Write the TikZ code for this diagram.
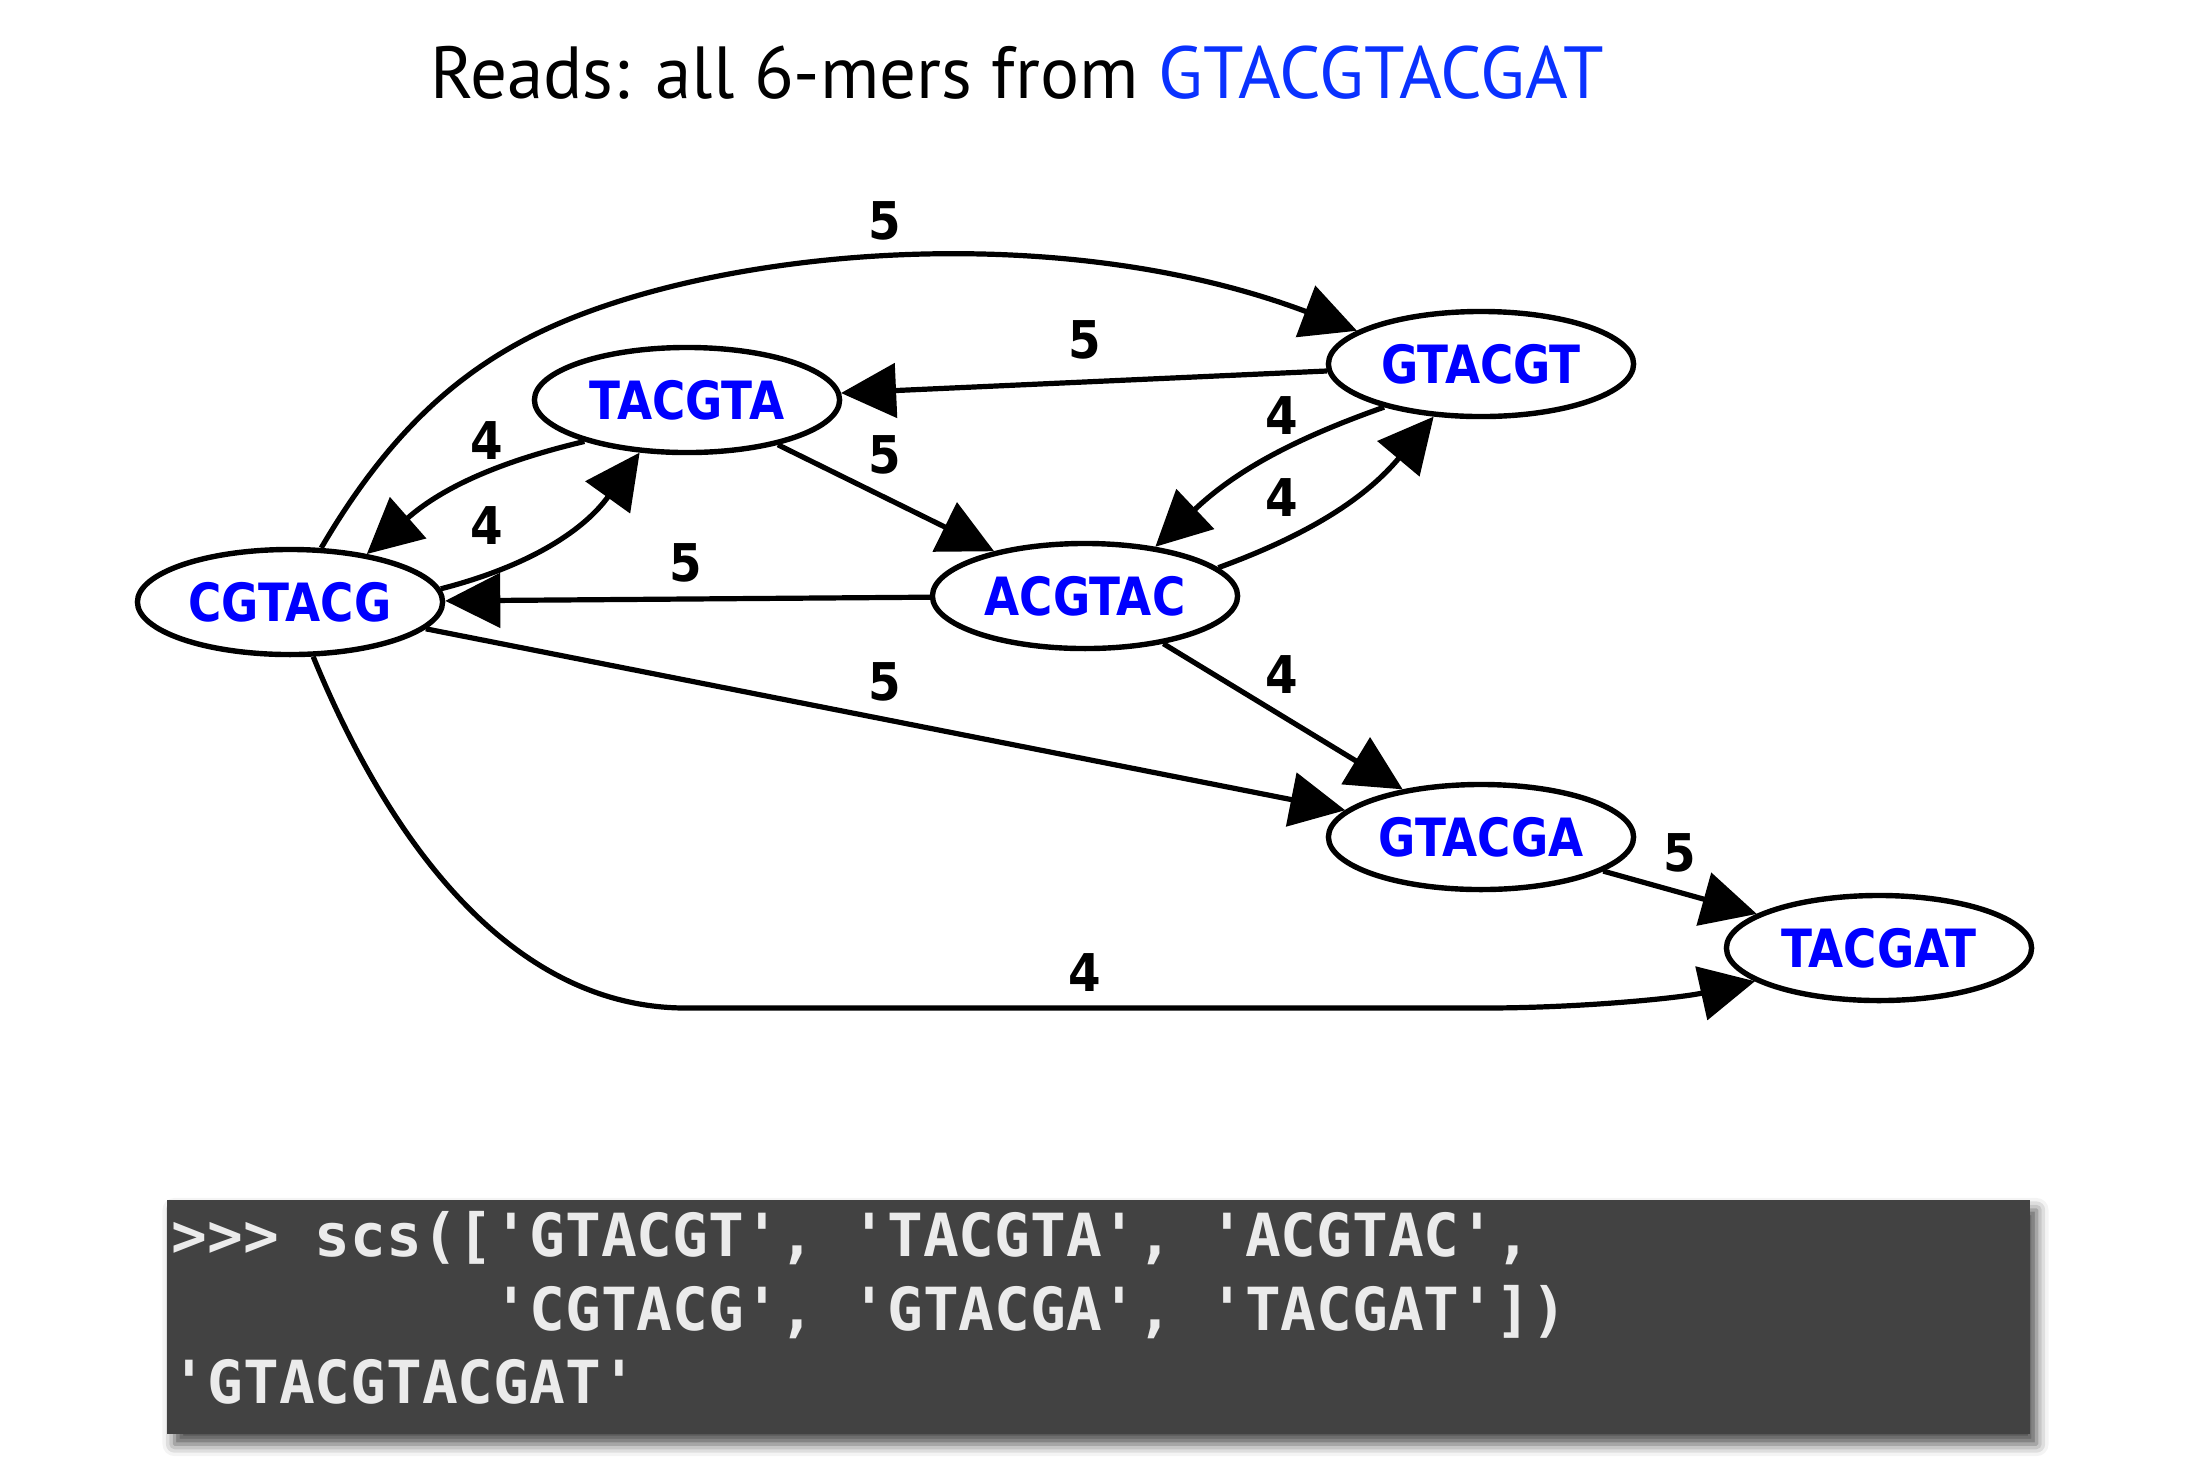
\documentclass[tikz,border=0pt]{standalone}
\usepackage{fontspec}
\setmonofont{DejaVu Sans Mono}
\newfontfamily\titlefont[FakeStretch=0.99]{PT Sans}
\newfontfamily\nodefont[FakeStretch=0.86]{DejaVu Sans Bold}
\newfontfamily\numfont[FakeStretch=0.9]{DejaVu Sans Bold}
\usetikzlibrary{arrows.meta,shapes.geometric,shadows.blur}
\definecolor{nodeblue}{RGB}{0,0,255}
\definecolor{titleblue}{RGB}{10,50,255}
\definecolor{codebg}{RGB}{66,66,66}
\definecolor{codefg}{RGB}{235,235,235}
\begin{document}
\begin{tikzpicture}[x=0.01cm,y=0.01cm,
  kmer/.style={draw=black, line width=0.054cm, ellipse, minimum width=3.05cm,
    minimum height=1.05cm, inner sep=0pt, text=nodeblue,
    font=\nodefont\fontsize{15pt}{16pt}\selectfont},
  edge/.style={line width=0.052cm, -{Triangle[length=0.55cm,width=0.54cm]}},
  wlabel/.style={font=\numfont\fontsize{14.8pt}{16pt}\selectfont, inner sep=0pt},
  codebox/.style={fill=codebg, minimum width=18.61cm, minimum height=2.34cm,
    inner sep=0pt, blur shadow={shadow xshift=0.07cm, shadow yshift=-0.1cm,
    shadow blur radius=0.12cm, shadow opacity=70}},
  codetext/.style={anchor=base west, inner sep=0pt, text=codefg,
    font=\ttfamily\bfseries\fontsize{16.9pt}{21pt}\selectfont}]
\useasboundingbox (0,0) rectangle (2195,-1469);

\node[anchor=base, font=\titlefont\fontsize{21pt}{24pt}\selectfont] (title)
  at (1017,-98) {Reads: all 6-mers from \textcolor{titleblue}{GTACGTACGAT}};

\node[kmer] (CGTACG) at (290,-602) {CGTACG};
\node[kmer] (TACGTA) at (687,-400) {TACGTA};
\node[kmer] (GTACGT) at (1481,-364) {GTACGT};
\node[kmer] (ACGTAC) at (1085,-596) {ACGTAC};
\node[kmer] (GTACGA) at (1481,-837) {GTACGA};
\node[kmer] (TACGAT) at (1879,-948) {TACGAT};

\draw[edge] (CGTACG.60) .. controls (390,-430) and (460,-373) .. (530,-337)
  .. controls (700,-250) and (1050,-215) .. (GTACGT.165);
\draw[edge] (GTACGT) -- (TACGTA);
\draw[edge] (TACGTA.202) to[bend right=14] (CGTACG.32);
\draw[edge] (CGTACG.5) to[bend right=20] (TACGTA.228);
\draw[edge] (TACGTA) -- (ACGTAC);
\draw[edge] (ACGTAC) -- (CGTACG);
\draw[edge] (GTACGT.204) to[bend right=12] (ACGTAC.35);
\draw[edge] (ACGTAC.12) to[bend right=15] (GTACGT.228);
\draw[edge] (ACGTAC) -- (GTACGA);
\draw[edge] (CGTACG) -- (GTACGA);
\draw[edge] (GTACGA) -- (TACGAT);
\draw[edge] (CGTACG.293) .. controls (380,-820) and (500,-1008) .. (686,-1008)
  -- (1484,-1008) .. controls (1580,-1008) and (1680,-998) .. (TACGAT.195);

\node[wlabel] (l1) at (885,-221) {5};
\node[wlabel] (l2) at (1085,-340) {5};
\node[wlabel] (l3) at (487,-441) {4};
\node[wlabel] (l4) at (487,-526) {4};
\node[wlabel] (l5) at (885,-455) {5};
\node[wlabel] (l6) at (686,-563) {5};
\node[wlabel] (l7) at (1282,-416) {4};
\node[wlabel] (l8) at (1282,-498) {4};
\node[wlabel] (l9) at (1282,-675) {4};
\node[wlabel] (l10) at (885,-682) {5};
\node[wlabel] (l11) at (1680,-853) {5};
\node[wlabel] (l12) at (1085,-973) {4};

\node[codebox] (box) at (1098.5,-1317) {};
\node[codetext] (c1) at (171,-1256) {>>> scs(['GTACGT', 'TACGTA', 'ACGTAC',};
\node[codetext] (c2) at (171,-1330) {\hphantom{>>> scs([}'CGTACG', 'GTACGA', 'TACGAT'])};
\node[codetext] (c3) at (171,-1403) {'GTACGTACGAT'};
\end{tikzpicture}
\end{document}
